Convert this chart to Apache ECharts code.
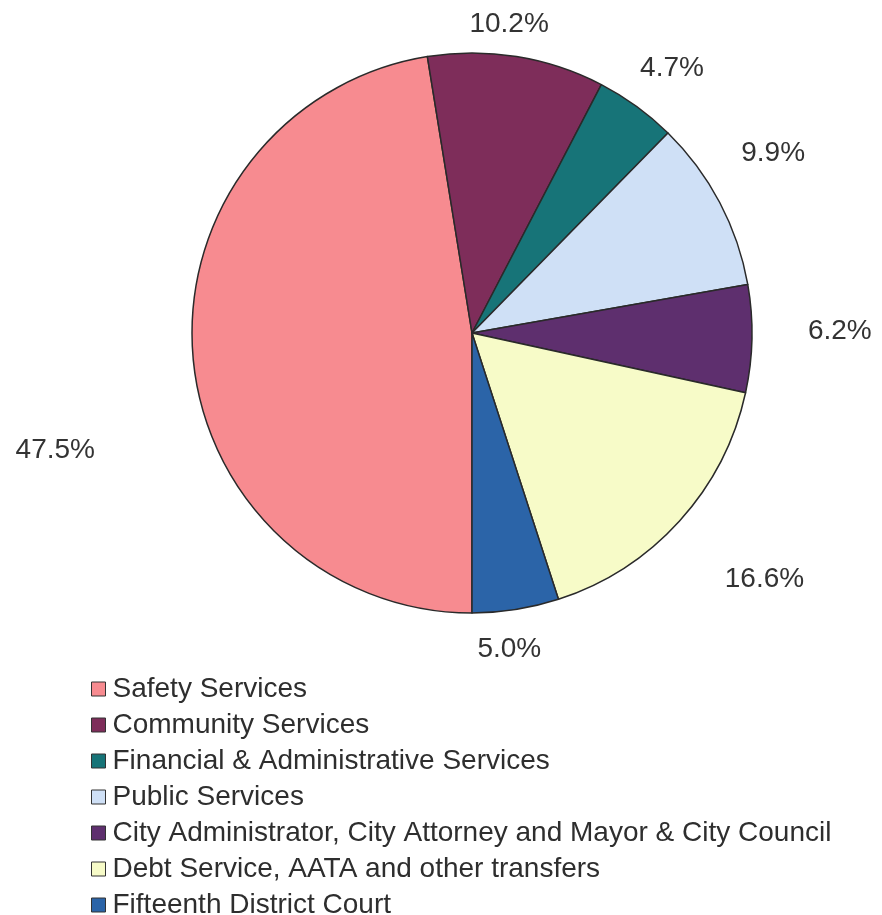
<!DOCTYPE html>
<html>
<head>
<meta charset="utf-8">
<script src="https://cdn.jsdelivr.net/npm/echarts@6/dist/echarts.min.js"></script>
<style>
  html, body { margin: 0; padding: 0; background: #ffffff; }
  #chart { width: 882px; height: 915px; }
</style>
</head>
<body>
<div id="chart"></div>
<script>
// General fund expenditures by service area (percent of total)
const categories = [
  'Safety Services',
  'Community Services',
  'Financial & Administrative Services',
  'Public Services',
  'City Administrator, City Attorney and Mayor & City Council',
  'Debt Service, AATA and other transfers',
  'Fifteenth District Court'
];
const shares = [47.5, 10.2, 4.7, 9.9, 6.2, 16.6, 5.0];
const sliceColors = ['#F78B90', '#7E2D5A', '#177478', '#CFE0F6', '#5E2F6E', '#F7FBC8', '#2B64A8'];

// nudges for the outside percentage labels [dx, dy]
const labelNudge = [[-63, 92], [-57, -3], [-19, -14], [-10, -35], [21, -8], [18, 38], [-48, 10]];

const chart = echarts.init(document.getElementById('chart'));
const font = '"Liberation Sans", Arial, sans-serif';

chart.setOption({
  backgroundColor: '#ffffff',
  animation: false,
  legend: {
    orient: 'vertical',
    left: 86,
    top: 668,
    height: 250,
    itemWidth: 14,
    itemHeight: 14,
    itemGap: 4,
    icon: 'rect',
    itemStyle: { borderColor: '#333333', borderWidth: 1 },
    textStyle: { fontFamily: font, fontSize: 28, color: '#2e2e2e', lineHeight: 32, padding: [0, 0, 0, 2] },
    data: categories
  },
  series: [{
    type: 'pie',
    center: [472, 333],
    radius: 280,
    startAngle: -90,
    clockwise: true,
    avoidLabelOverlap: false,
    itemStyle: { borderColor: '#2a2a2a', borderWidth: 1.5 },
    label: {
      show: true,
      position: 'outside',
      fontFamily: font,
      fontSize: 28,
      color: '#333333',
      formatter: p => p.value.toFixed(1) + '%'
    },
    labelLine: { show: false, length: 30, length2: 0 },
    labelLayout: p => ({ dx: labelNudge[p.dataIndex][0], dy: labelNudge[p.dataIndex][1] }),
    emphasis: { disabled: true },
    data: categories.map((name, i) => ({
      name,
      value: shares[i],
      itemStyle: { color: sliceColors[i] }
    }))
  }]
});
</script>
</body>
</html>
